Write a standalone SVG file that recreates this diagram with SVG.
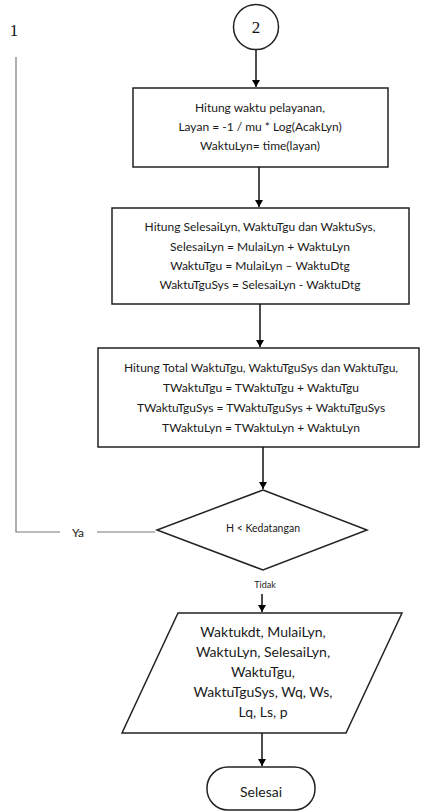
<svg xmlns="http://www.w3.org/2000/svg" width="423" height="812" viewBox="0 0 423 812">
<defs>
<marker id="ah" markerWidth="8" markerHeight="10" refX="7" refY="5" orient="auto" markerUnits="userSpaceOnUse">
<path d="M0,1 L7,5 L0,9 Z" fill="#000"/>
</marker>
<style>
.box{fill:#fff;stroke:#222;stroke-width:1.5}
.t{font-family:Lato,"Open Sans",sans-serif;font-size:12px;fill:#1a1a1a;text-anchor:middle}
.tp{font-family:Lato,"Open Sans",sans-serif;font-size:14px;fill:#1a1a1a;text-anchor:middle}
.ser{font-family:"Liberation Serif",serif;font-size:17px;fill:#111;text-anchor:middle}
.c{fill:none;stroke:#111;stroke-width:1.5}
.g{fill:none;stroke:#777;stroke-width:1.2}
</style>
</defs>
<rect width="423" height="812" fill="#fff"/>
<g id="label1"><text class="ser" x="14" y="36">1</text></g>
<g id="connector2">
<circle class="box" cx="256" cy="27" r="22.5"/>
<text class="ser" x="256" y="33">2</text>
</g>
<g id="box1">
<rect class="box" x="133" y="88" width="255" height="79"/>
<text class="t" x="260" y="112">Hitung waktu pelayanan,</text>
<text class="t" x="260" y="131">Layan = -1 / mu * Log(AcakLyn)</text>
<text class="t" x="260" y="150">WaktuLyn= time(layan)</text>
</g>
<g id="box2">
<rect class="box" x="112" y="208" width="297" height="96"/>
<text class="t" x="260" y="231">Hitung SelesaiLyn, WaktuTgu dan WaktuSys,</text>
<text class="t" x="260" y="251">SelesaiLyn = MulaiLyn + WaktuLyn</text>
<text class="t" x="260" y="270">WaktuTgu = MulaiLyn – WaktuDtg</text>
<text class="t" x="260" y="289">WaktuTguSys = SelesaiLyn - WaktuDtg</text>
</g>
<g id="box3">
<rect class="box" x="98" y="348" width="321" height="99"/>
<text class="t" x="261" y="372">Hitung Total WaktuTgu, WaktuTguSys dan WaktuTgu,</text>
<text class="t" x="261" y="392">TWaktuTgu = TWaktuTgu + WaktuTgu</text>
<text class="t" x="261" y="412">TWaktuTguSys = TWaktuTguSys + WaktuTguSys</text>
<text class="t" x="261" y="432">TWaktuLyn = TWaktuLyn + WaktuLyn</text>
</g>
<g id="decision">
<polygon class="box" points="263,490 367,530 263,570 157,530"/>
<text class="t" x="263" y="532" style="font-size:10.5px">H &lt; Kedatangan</text>
</g>
<g id="output">
<polygon class="box" points="178,613 402,613 346,733 122,733"/>
<text class="tp" x="263" y="637">Waktukdt, MulaiLyn,</text>
<text class="tp" x="263" y="657">WaktuLyn, SelesaiLyn,</text>
<text class="tp" x="263" y="677">WaktuTgu,</text>
<text class="tp" x="263" y="697">WaktuTguSys, Wq, Ws,</text>
<text class="tp" x="263" y="717">Lq, Ls, p</text>
</g>
<g id="end">
<rect class="box" x="207" y="767" width="108" height="43" rx="21" ry="21"/>
<text class="tp" x="261" y="797">Selesai</text>
</g>
<g id="connectors">
<line class="c" x1="256" y1="50" x2="256" y2="87" marker-end="url(#ah)"/>
<line class="c" x1="259" y1="167" x2="259" y2="207" marker-end="url(#ah)"/>
<line class="c" x1="260" y1="304" x2="260" y2="347" marker-end="url(#ah)"/>
<line class="c" x1="263" y1="447" x2="263" y2="489" marker-end="url(#ah)"/>
<line class="c" x1="262" y1="594" x2="262" y2="612" marker-end="url(#ah)"/>
<line class="c" x1="262" y1="733" x2="262" y2="766" marker-end="url(#ah)"/>
<polyline class="g" points="60,532 16,532 16,57"/>
<line class="g" x1="97" y1="532" x2="155" y2="532"/>
<text class="t" x="78" y="537">Ya</text>
<text class="t" x="265" y="588" style="font-size:9px">Tidak</text>
</g>
</svg>
